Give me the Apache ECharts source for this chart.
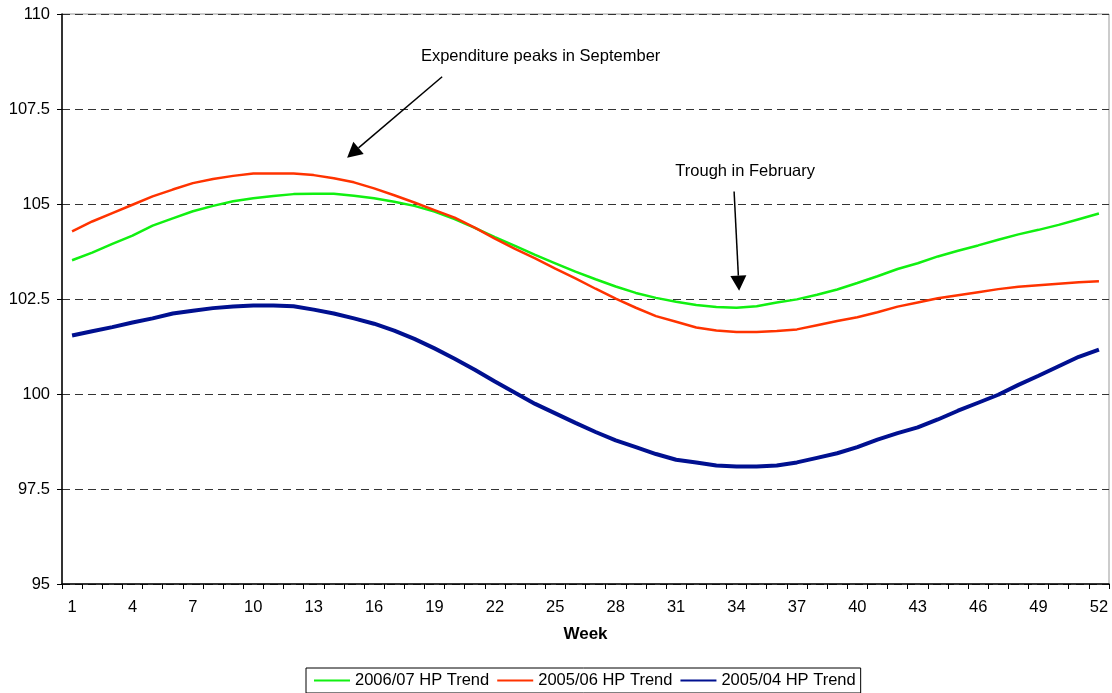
<!DOCTYPE html>
<html>
<head>
<meta charset="utf-8">
<script src="https://cdn.jsdelivr.net/npm/echarts@6/dist/echarts.min.js"></script>
<style>
  html, body { margin: 0; padding: 0; background: #ffffff; }
  #chart { width: 1112px; height: 693px; }
</style>
</head>
<body>
<div id="chart"></div>
<script>
// Weekly trend indices, weeks 1..52
const weeks = Array.from({ length: 52 }, (_, i) => String(i + 1));

const trend0607 = [
  103.52, 103.72, 103.95, 104.17, 104.43, 104.62, 104.81, 104.95, 105.07, 105.15,
  105.21, 105.26, 105.27, 105.27, 105.22, 105.15, 105.06, 104.95, 104.80, 104.60,
  104.37, 104.13, 103.90, 103.66, 103.44, 103.22, 103.02, 102.83, 102.66, 102.53,
  102.43, 102.34, 102.29, 102.27, 102.31, 102.41, 102.49, 102.61, 102.75, 102.92,
  103.10, 103.29, 103.44, 103.62, 103.77, 103.91, 104.06, 104.20, 104.32, 104.45,
  104.60, 104.75
];

const trend0506 = [
  104.28, 104.54, 104.76, 104.98, 105.20, 105.38, 105.55, 105.66, 105.74, 105.80,
  105.80, 105.80, 105.76, 105.68, 105.57, 105.41, 105.23, 105.04, 104.84, 104.64,
  104.38, 104.09, 103.82, 103.57, 103.30, 103.04, 102.77, 102.51, 102.27, 102.05,
  101.90, 101.75, 101.67, 101.63, 101.63, 101.66, 101.70, 101.81, 101.92, 102.02,
  102.15, 102.30, 102.41, 102.52, 102.60, 102.68, 102.76, 102.82, 102.86, 102.90,
  102.94, 102.97
];

const trend0504 = [
  101.54, 101.65, 101.76, 101.88, 101.99, 102.12, 102.19, 102.26, 102.30, 102.33,
  102.33, 102.31, 102.22, 102.12, 101.99, 101.85, 101.67, 101.45, 101.20, 100.93,
  100.64, 100.33, 100.03, 99.74, 99.49, 99.24, 99.00, 98.78, 98.60, 98.42,
  98.27, 98.20, 98.12, 98.09, 98.09, 98.12, 98.20, 98.32, 98.44, 98.60,
  98.80, 98.97, 99.12, 99.33, 99.56, 99.77, 99.98, 100.24, 100.48, 100.73,
  100.98, 101.17
];

const seriesNames = ['2006/07 HP Trend', '2005/06 HP Trend', '2005/04 HP Trend'];

// Callouts: text anchor and arrow (from -> to) in data units [week, index value]
const callouts = [
  { text: 'Expenditure peaks in September', at: [24.27, 108.87], from: [19.38, 108.35], to: [14.66, 106.22] },
  { text: 'Trough in February', at: [34.43, 105.85], from: [33.88, 105.33], to: [34.13, 102.72] }
];

const FONT = '"Liberation Sans", Arial, sans-serif';
const FS = 16.5;

const chart = echarts.init(document.getElementById('chart'), null, { renderer: 'canvas' });

chart.setOption({
  animation: false,
  backgroundColor: '#ffffff',
  textStyle: { fontFamily: FONT },
  grid: {
    left: 62, right: 3, top: 14, bottom: 109,
    show: true, borderColor: '#999999', borderWidth: 1, backgroundColor: 'transparent'
  },
  legend: {
    left: 306, top: 668,
    padding: [4, 5, 4, 7],
    borderColor: '#000000', borderWidth: 1,
    itemWidth: 36, itemHeight: 12, itemGap: 7,
    itemStyle: { opacity: 0 },
    textStyle: { fontFamily: FONT, fontSize: FS, color: '#000000' },
    data: seriesNames
  },
  xAxis: {
    type: 'category',
    data: weeks,
    boundaryGap: true,
    name: 'Week',
    nameLocation: 'middle',
    nameGap: 42,
    nameTextStyle: { fontFamily: FONT, fontSize: 17, fontWeight: 'bold', color: '#000000', verticalAlign: 'top' },
    axisLine: { lineStyle: { color: '#000000', width: 1.5 } },
    axisTick: { show: true, interval: 0, alignWithLabel: false, length: 5, lineStyle: { color: '#000000' } },
    axisLabel: { interval: 2, margin: 15, fontSize: FS, color: '#000000', fontFamily: FONT },
    splitLine: { show: false }
  },
  yAxis: {
    type: 'value',
    min: 95, max: 110, interval: 2.5,
    axisLine: { show: true, lineStyle: { color: '#000000', width: 1.5 } },
    axisTick: { show: true, length: 5, lineStyle: { color: '#000000' } },
    axisLabel: { margin: 12, fontSize: FS, color: '#000000', fontFamily: FONT },
    splitLine: { show: true, lineStyle: { color: '#333333', width: 1, type: [8, 5] } }
  },
  series: [
    {
      name: seriesNames[0], type: 'line', data: trend0607, symbol: 'none', smooth: false,
      lineStyle: { color: '#11f011', width: 2.5 }, itemStyle: { color: '#11f011', opacity: 0 }, z: 3
    },
    {
      name: seriesNames[1], type: 'line', data: trend0506, symbol: 'none', smooth: false,
      lineStyle: { color: '#ff3300', width: 2.5 }, itemStyle: { color: '#ff3300', opacity: 0 }, z: 4
    },
    {
      name: seriesNames[2], type: 'line', data: trend0504, symbol: 'none', smooth: false,
      lineStyle: { color: '#001090', width: 4 }, itemStyle: { color: '#001090', opacity: 0 }, z: 2
    }
  ]
});

// Convert a (possibly fractional) week number and value to pixels
function toPixel(pt) {
  const idx = pt[0] - 1;
  const i0 = Math.floor(idx), i1 = i0 + 1, f = idx - i0;
  const a = chart.convertToPixel({ xAxisIndex: 0, yAxisIndex: 0 }, [i0, pt[1]]);
  const b = chart.convertToPixel({ xAxisIndex: 0, yAxisIndex: 0 }, [i1, pt[1]]);
  return [a[0] + (b[0] - a[0]) * f, a[1]];
}

const graphics = [];
callouts.forEach(c => {
  const t = toPixel(c.at);
  graphics.push({
    type: 'text', x: t[0], y: t[1], z: 10,
    style: { text: c.text, font: FS + 'px ' + FONT, fill: '#000000', textAlign: 'center', textVerticalAlign: 'middle' }
  });
  const p0 = toPixel(c.from), p1 = toPixel(c.to);
  const dx = p1[0] - p0[0], dy = p1[1] - p0[1];
  const len = Math.sqrt(dx * dx + dy * dy);
  const ux = dx / len, uy = dy / len;
  const headLen = 15, headHalf = 8;
  const bx = p1[0] - ux * headLen, by = p1[1] - uy * headLen;
  graphics.push({
    type: 'line', z: 10,
    shape: { x1: p0[0], y1: p0[1], x2: bx, y2: by },
    style: { stroke: '#000000', lineWidth: 1.5 }
  });
  graphics.push({
    type: 'polygon', z: 10,
    shape: { points: [[p1[0], p1[1]], [bx - uy * headHalf, by + ux * headHalf], [bx + uy * headHalf, by - ux * headHalf]] },
    style: { fill: '#000000' }
  });
});
chart.setOption({ graphic: graphics });
</script>
</body>
</html>
